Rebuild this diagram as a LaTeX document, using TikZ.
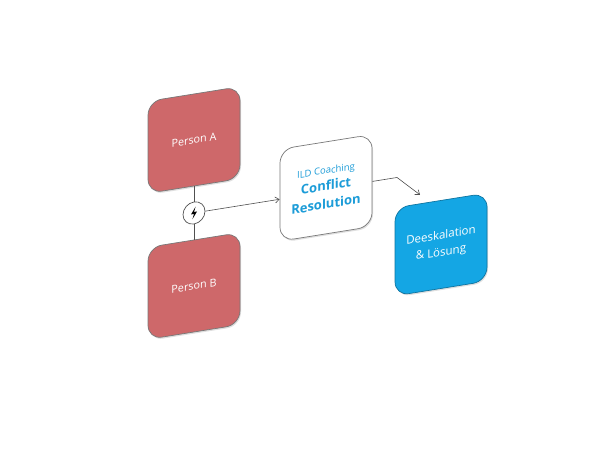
\documentclass[tikz,border=0pt]{standalone}
\usepackage{fontspec}
\setmainfont{Open Sans}
\usetikzlibrary{arrows.meta,shadows}
\definecolor{personred}{RGB}{206,104,106}
\definecolor{deblue}{RGB}{20,166,228}
\definecolor{crblue}{RGB}{28,156,216}
\definecolor{edgegray}{RGB}{120,120,120}
\definecolor{linegray}{RGB}{80,80,80}
\tikzset{
  box/.style={rectangle, rounded corners=14pt, minimum width=92pt, minimum height=92pt,
    draw=edgegray, line width=0.7pt, align=center,
    drop shadow={shadow xshift=1pt, shadow yshift=-1.5pt, opacity=0.25}},
  person/.style={box, fill=personred, text=white, font=\fontsize{10.8}{13}\selectfont},
  coach/.style={box, fill=white, text=crblue, font=\fontsize{13}{18.5}\selectfont\bfseries},
  result/.style={box, fill=deblue, draw=deblue!70!black, minimum height=88pt, text=white,
    font=\fontsize{11.5}{17}\selectfont},
  boltring/.style={circle, draw=linegray, fill=white, line width=0.7pt, minimum size=22pt, inner sep=0pt},
  conn/.style={draw=linegray, line width=0.6pt},
  arr/.style={conn, -{Straight Barb[length=4pt,width=6pt]}}
}
\begin{document}
\begin{tikzpicture}[x=1pt,y=-1pt]
\useasboundingbox (0,0) rectangle (612,459);
\begin{scope}[yslant=0.16, transform shape]
  \node[person] (pa) at (194,171) {Person A};
  \node[person] (pb) at (194,317) {Person B};
  \node[boltring] (bolt) at (194,244) {};
  \fill[black] ([shift={(1.6,-6)}]bolt.center) -- ([shift={(-3,1)}]bolt.center)
    -- ([shift={(0,1)}]bolt.center) -- ([shift={(-1.6,6)}]bolt.center)
    -- ([shift={(3,-1)}]bolt.center) -- ([shift={(0,-1)}]bolt.center) -- cycle;
  \node[coach] (cr) at (326,240) {{\mdseries\fontsize{9.5}{18.5}\selectfont ILD Coaching}\\[-2pt]
    Conflict\\Resolution};
  \node[result] (de) at (441,315) {Deeskalation\\\& Lösung};
  \coordinate (bend) at (397,241);
  \coordinate (tip) at (420,262);
  \path[conn] (pa) -- (bolt);
  \path[conn] (bolt) -- (pb);
  \path[arr] (bolt.east) -- (bolt.east -| cr.west);
  \path[arr] (cr.east |- bend) -- (bend) -- (tip);
\end{scope}
\end{tikzpicture}
\end{document}
